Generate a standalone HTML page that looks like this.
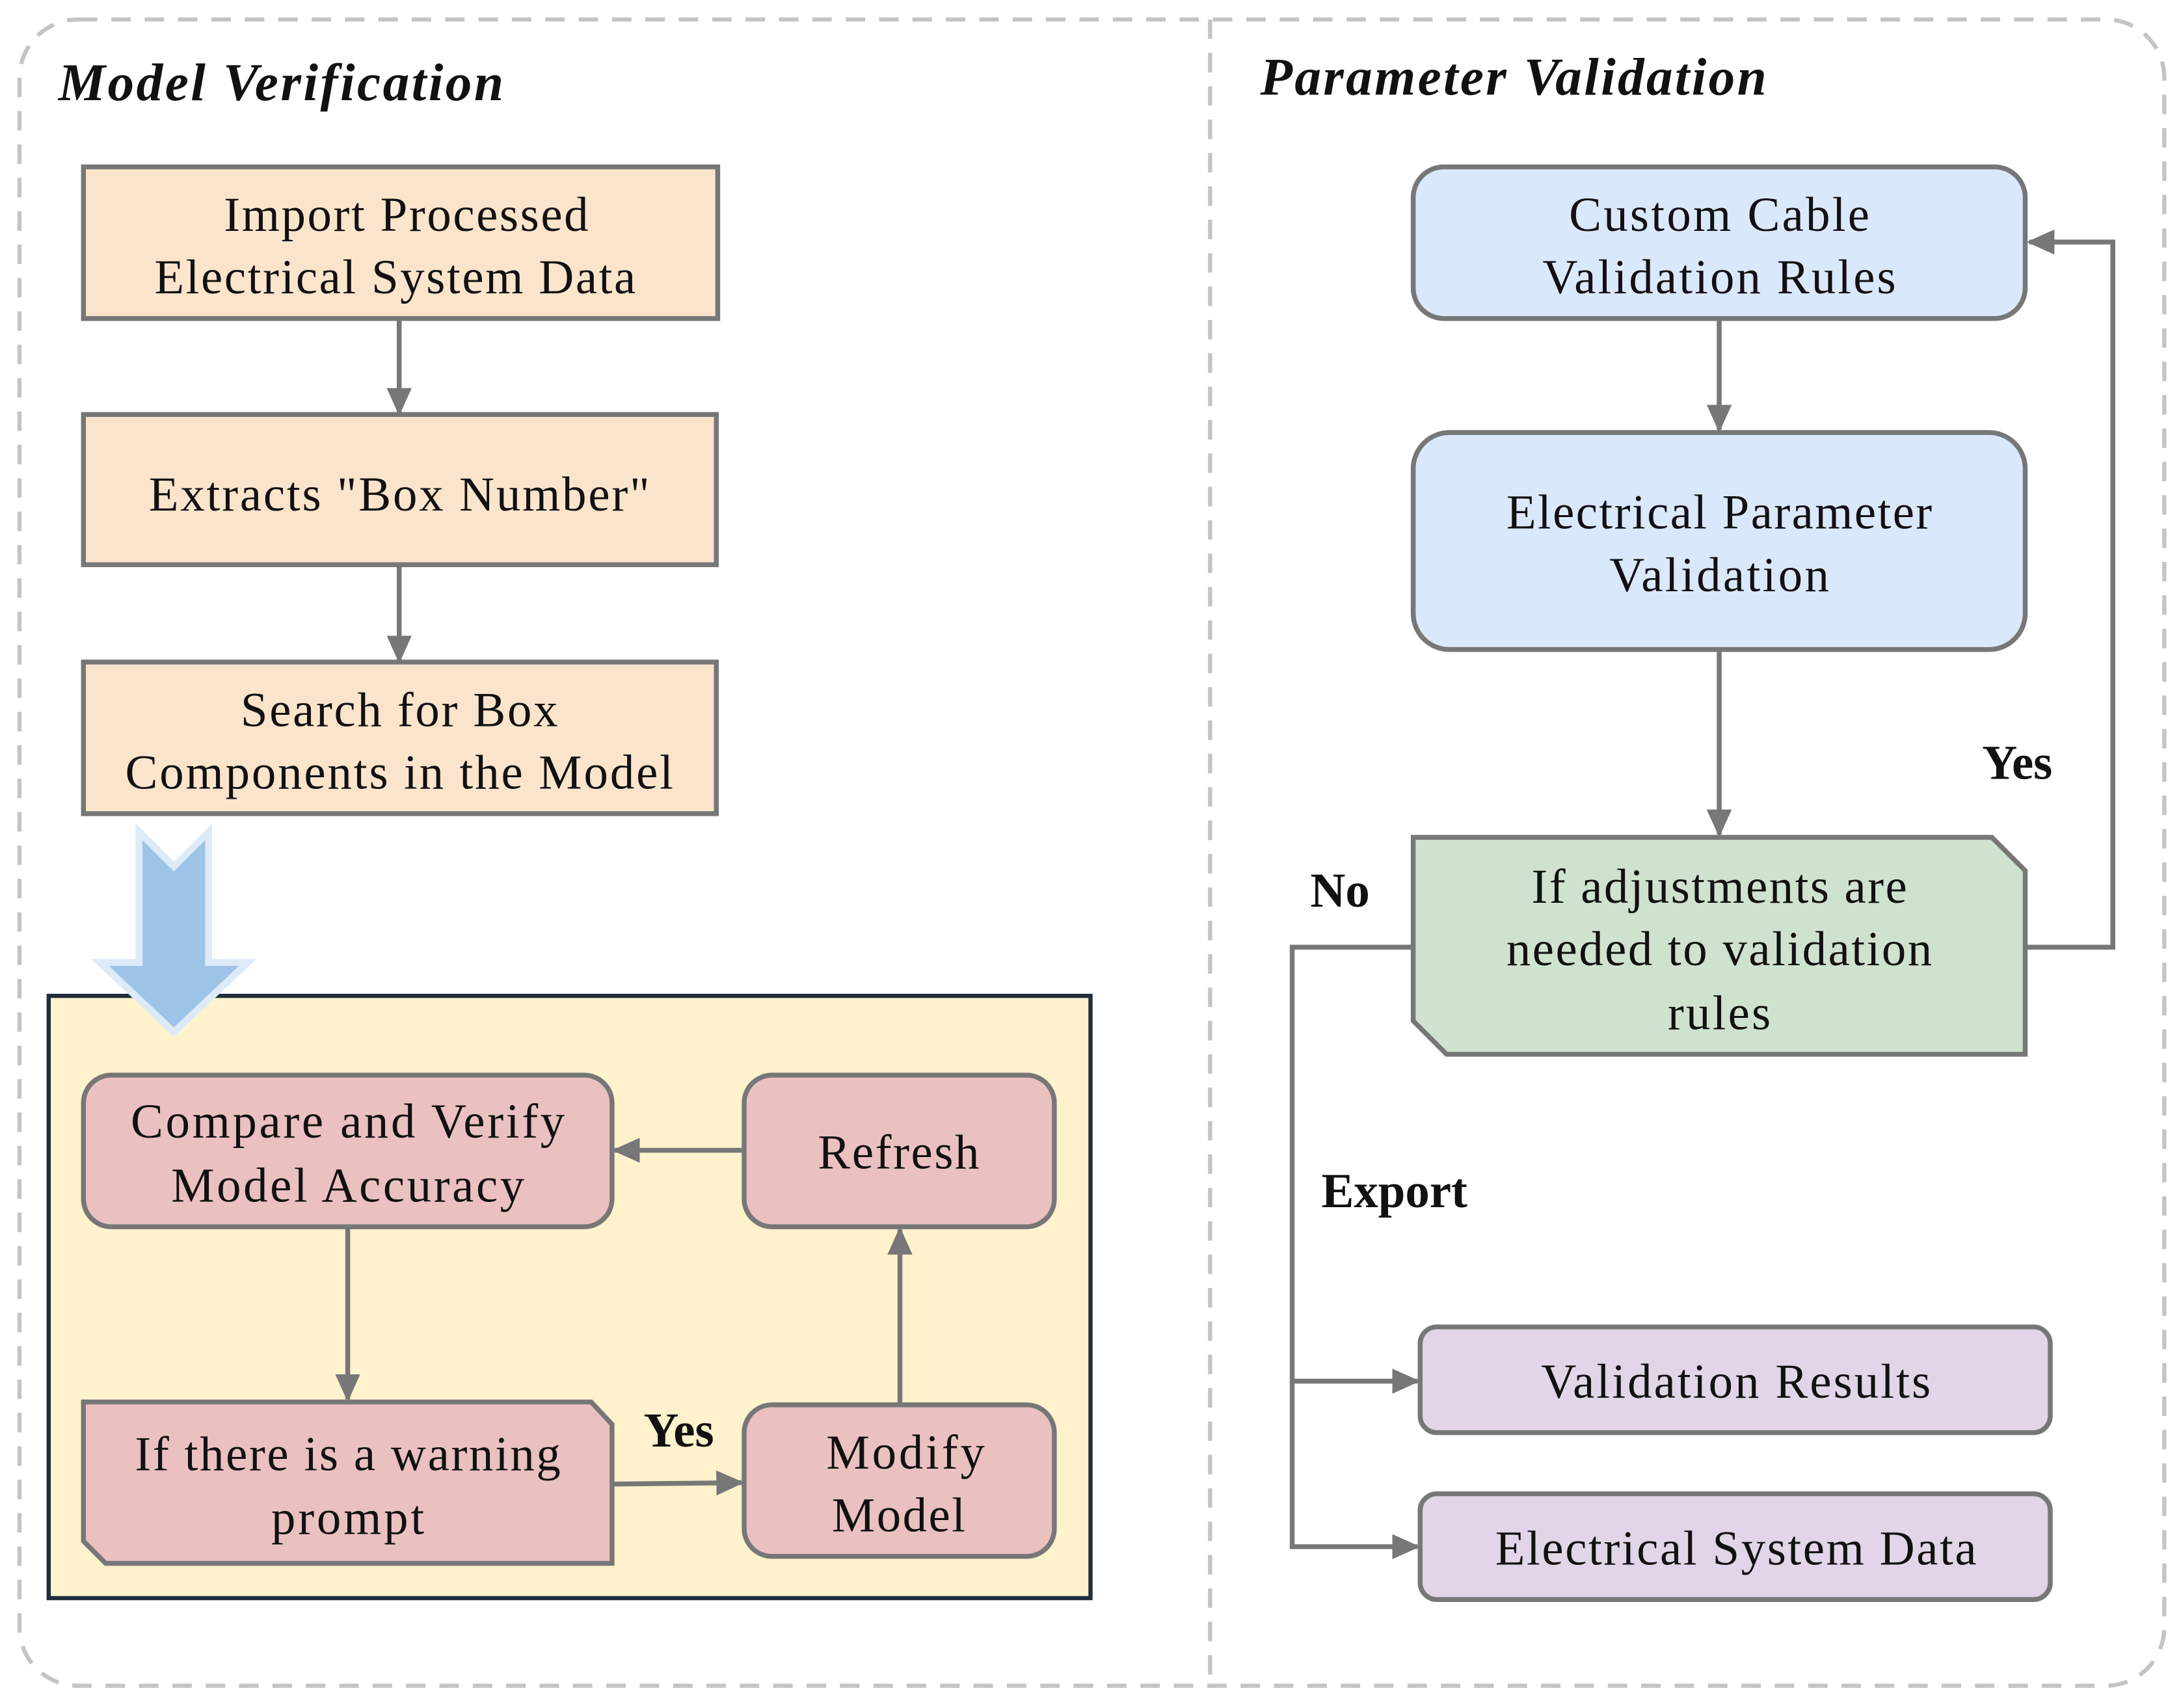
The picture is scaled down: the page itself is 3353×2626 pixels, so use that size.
<!DOCTYPE html>
<html><head><meta charset="utf-8"><style>html,body{margin:0;padding:0;background:#fff}svg{display:block}svg text{font-family:"Liberation Serif","DejaVu Serif",serif}</style></head>
<body>
<svg width="3353" height="2626" viewBox="0 0 1568 1228" preserveAspectRatio="none" xmlns="http://www.w3.org/2000/svg">
<defs>
<marker id="ah" markerWidth="20" markerHeight="18" refX="18" refY="9" orient="auto" markerUnits="userSpaceOnUse" viewBox="0 0 20 18">
<path d="M0,0 L20,9 L0,18 z" fill="#777"/></marker>
</defs>
<g fill="#111">
<rect x="14" y="14" width="1542" height="1198" rx="42" fill="none" stroke="#c4c4c4" stroke-width="3" stroke-dasharray="14,10"/>
<line x1="870" y1="14" x2="870" y2="1212" stroke="#c4c4c4" stroke-width="3" stroke-dasharray="14,10"/>
<text x="42" y="72" font-size="38" font-weight="bold" font-style="italic" textLength="320">Model Verification</text>
<text x="906" y="68" font-size="38" font-weight="bold" font-style="italic" textLength="364">Parameter Validation</text>

<g stroke="#777" stroke-width="3.5" fill="#fbe4cc">
<rect x="60" y="120" width="456" height="109"/>
<rect x="60" y="298" width="455" height="108"/>
<rect x="60" y="476" width="455" height="109"/>
</g>
<g font-size="35" text-anchor="middle">
<text x="292" y="166" textLength="262">Import Processed</text>
<text x="284" y="211" textLength="346">Electrical System Data</text>
<text x="287" y="367" textLength="360">Extracts "Box Number"</text>
<text x="287" y="522" textLength="228">Search for Box</text>
<text x="287" y="567" textLength="394">Components in the Model</text>
</g>
<g stroke="#777" stroke-width="3.5" marker-end="url(#ah)">
<line x1="287" y1="229" x2="287" y2="297"/>
<line x1="287" y1="406" x2="287" y2="475"/>
</g>

<rect x="35" y="716" width="749" height="433" fill="#fff2cc" stroke="#1f2d3d" stroke-width="3"/>
<path d="M100,598 L125,623 L150,598 L150,692 L178,692 L125,742 L72,692 L100,692 z" fill="#9dc3e6" stroke="#ddeaf7" stroke-width="5"/>

<g stroke="#777" stroke-width="3.5" fill="#eac1c0">
<rect x="60" y="773" width="380" height="109" rx="20"/>
<rect x="535" y="773" width="223" height="109" rx="20"/>
<rect x="535" y="1010" width="223" height="109" rx="20"/>
<path d="M60,1008 L425,1008 L440,1024 L440,1124 L76,1124 L60,1108 z"/>
</g>
<g font-size="35" text-anchor="middle">
<text x="250" y="818" textLength="312">Compare and Verify</text>
<text x="250" y="864" textLength="254">Model Accuracy</text>
<text x="646" y="840" textLength="116">Refresh</text>
<text x="651" y="1056" textLength="114">Modify</text>
<text x="646" y="1101" textLength="96">Model</text>
<text x="250" y="1057" textLength="306">If there is a warning</text>
<text x="250" y="1103" textLength="110">prompt</text>
</g>
<text x="488" y="1040" font-size="35" font-weight="bold" text-anchor="middle">Yes</text>
<g stroke="#777" stroke-width="3.5" marker-end="url(#ah)">
<line x1="535" y1="827" x2="442" y2="827"/>
<line x1="250" y1="882" x2="250" y2="1006"/>
<line x1="440" y1="1067" x2="533" y2="1066"/>
<line x1="647" y1="1010" x2="647" y2="884"/>
</g>

<g stroke="#777" stroke-width="3.5">
<rect x="1016" y="120" width="440" height="109" rx="22" fill="#dae8fc"/>
<rect x="1016" y="311" width="440" height="156" rx="26" fill="#dae8fc"/>
<path d="M1016,602 L1432,602 L1456,626 L1456,758 L1040,758 L1016,734 z" fill="#cfe2cf"/>
<rect x="1021" y="954" width="453" height="76" rx="12" fill="#e1d5e7"/>
<rect x="1021" y="1074" width="453" height="76" rx="12" fill="#e1d5e7"/>
</g>
<g font-size="35" text-anchor="middle">
<text x="1236" y="166" textLength="216">Custom Cable</text>
<text x="1236" y="211" textLength="254">Validation Rules</text>
<text x="1236" y="380" textLength="306">Electrical Parameter</text>
<text x="1236" y="425" textLength="158">Validation</text>
<text x="1236" y="649" textLength="270">If adjustments are</text>
<text x="1236" y="694" textLength="306">needed to validation</text>
<text x="1236" y="740" textLength="74">rules</text>
<text x="1248" y="1005" textLength="280">Validation Results</text>
<text x="1248" y="1125" textLength="346">Electrical System Data</text>
</g>
<g font-size="35" font-weight="bold">
<text x="1425" y="560">Yes</text>
<text x="942" y="652">No</text>
<text x="950" y="868">Export</text>
</g>
<g stroke="#777" stroke-width="3.5" fill="none">
<line x1="1236" y1="229" x2="1236" y2="309" marker-end="url(#ah)"/>
<line x1="1236" y1="467" x2="1236" y2="600" marker-end="url(#ah)"/>
<path d="M1456,681 L1519,681 L1519,174 L1459,174" marker-end="url(#ah)"/>
<path d="M1016,681 L929,681 L929,1112 L1019,1112" marker-end="url(#ah)"/>
<path d="M929,993 L1019,993" marker-end="url(#ah)"/>
</g>
</g>
</svg>
</body></html>
